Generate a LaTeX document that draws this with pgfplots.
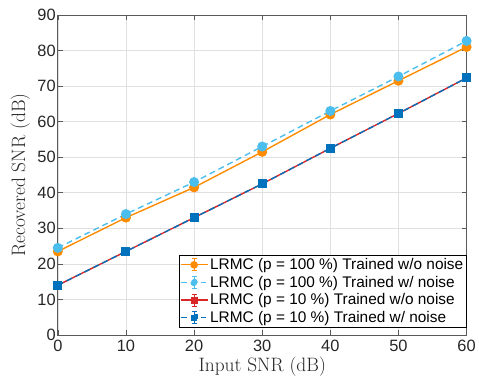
\documentclass[border=0pt]{standalone}
\usepackage{fontspec}
\usepackage{pgfplots}
\pgfplotsset{compat=1.18}
\newfontfamily\hv{Liberation Sans}
\definecolor{corange}{rgb}{1.0,0.55,0.0}
\definecolor{clblue}{rgb}{0.30,0.745,0.933}
\definecolor{cred}{rgb}{0.85,0.15,0.15}
\definecolor{cblue}{rgb}{0.0,0.447,0.741}
\definecolor{cgrid}{rgb}{0.88,0.88,0.88}
\definecolor{caxis}{rgb}{0.35,0.35,0.35}
\pgfplotsset{
  errleg/.style={legend image code/.code={
    \draw[##1] (0bp,0bp) -- (27bp,0bp);
    \draw[##1,solid,line width=1pt] (13.5bp,-6bp) -- (13.5bp,6bp);
    \draw[##1,solid,line width=1pt] (11bp,-6bp) -- (16bp,-6bp);
    \draw[##1,solid,line width=1pt] (11bp,6bp) -- (16bp,6bp);
    #1
  }},
}
\begin{document}
\begin{tikzpicture}
\begin{axis}[
  scale only axis,
  width=410bp, height=321bp,
  xmin=0, xmax=60, ymin=0, ymax=90,
  xtick={0,10,...,60}, ytick={0,10,...,90},
  grid=major,
  major grid style={cgrid, line width=0.6pt},
  axis line style={caxis, line width=0.8pt},
  tick style={caxis, line width=0.6pt},
  tick align=inside,
  major tick length=5bp,
  /pgf/number format/assume math mode=true,
  ticklabel style={font=\hv\fontsize{16.5}{18}\selectfont, text=black!85},
  yticklabel style={inner xsep=2pt},
  xticklabel style={inner ysep=4.5pt},
  xlabel={Input SNR (dB)},
  ylabel={Recovered SNR (dB)},
  label style={font=\fontsize{19.5}{21}\selectfont, text=black!85},
  xlabel style={yshift=2.5bp},
  ylabel style={yshift=2bp},
  legend style={font=\hv\fontsize{15.5}{17}\selectfont, draw=black, line width=0.6pt, inner xsep=1pt, inner ysep=1pt, row sep=1pt, at={(1,0.024)}, anchor=south east, legend cell align=left},
  legend image post style={line width=1.2pt},
  clip=false,
]
\path (rel axis cs:0,1) ++(-58bp,15bp);
\path (rel axis cs:1,0) ++(11bp,-41bp);
\addplot[corange, line width=1.4pt, mark=*, mark size=4.3bp,
  errleg={\fill[corange] (13.5bp,0) circle (3.2bp);}] coordinates {
(0,23.5) (10,33) (20,41.5) (30,51.5) (40,62) (50,71.5) (60,81)};
\addlegendentry{LRMC (p = 100 \%) Trained w/o noise}
\addplot[clblue, line width=1.4pt, dash pattern=on 6pt off 4pt, mark=*, mark size=4.3bp, mark options={solid},
  errleg={\fill[clblue] (13.5bp,0) circle (3.2bp);}] coordinates {
(0,24.5) (10,34) (20,43) (30,53) (40,63) (50,72.7) (60,82.7)};
\addlegendentry{LRMC (p = 100 \%) Trained w/ noise}
\addplot[cred, line width=1.4pt, mark=square*, mark size=3.5bp,
  errleg={\fill[cred] (10.5bp,-3bp) rectangle (16.5bp,3bp);}] coordinates {
(0,14) (10,23.5) (20,33) (30,42.5) (40,52.5) (50,62.3) (60,72.3)};
\addlegendentry{LRMC (p = 10 \%) Trained w/o noise}
\addplot[cblue, line width=1.4pt, dash pattern=on 6pt off 4pt, mark=square*, mark size=3.8bp, mark options={solid},
  errleg={\fill[cblue] (10.5bp,-3bp) rectangle (16.5bp,3bp);}] coordinates {
(0,14) (10,23.5) (20,33) (30,42.5) (40,52.5) (50,62.3) (60,72.3)};
\addlegendentry{LRMC (p = 10 \%) Trained w/ noise}
\end{axis}
\end{tikzpicture}
\end{document}
